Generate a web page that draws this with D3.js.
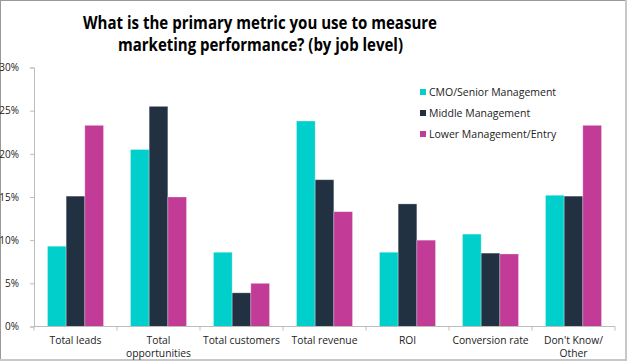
<!DOCTYPE html>
<html>
<head>
<meta charset="utf-8">
<script src="https://cdn.jsdelivr.net/npm/d3@7"></script>
<style>
  body { margin: 0; background: #fff; }
  svg { display: block; font-family: "Open Sans", sans-serif; }
</style>
</head>
<body>
<svg width="627" height="361"></svg>
<script>
// Data
var categories = ["Total leads", "Total opportunities", "Total customers", "Total revenue", "ROI", "Conversion rate", "Don't Know/ Other"];
var categoryLines = [["Total leads"], ["Total", "opportunities"], ["Total customers"], ["Total revenue"], ["ROI"], ["Conversion rate"], ["Don't Know/", "Other"]];
var seriesNames = ["CMO/Senior Management", "Middle Management", "Lower Management/Entry"];
var cmoValues = [9.3, 20.5, 8.6, 23.8, 8.6, 10.7, 15.2];
var middleValues = [15.1, 25.5, 3.9, 17.0, 14.2, 8.5, 15.1];
var lowerValues = [23.3, 15.0, 5.0, 13.3, 10.0, 8.4, 23.3];
var yTicks = [0, 5, 10, 15, 20, 25, 30];
var colors = ["#00CFCB", "#213142", "#C23B96"];

var svg = d3.select("svg"),
  width = +svg.attr("width"),
  height = +svg.attr("height");

// frame
svg.append("rect").attr("x", 0).attr("y", 0).attr("width", width).attr("height", height).attr("fill", "#c8c8c8");
svg.append("rect").attr("x", 0).attr("y", 0).attr("width", width - 2).attr("height", height - 2).attr("fill", "#999");
svg.append("rect").attr("x", 1).attr("y", 1).attr("width", width - 3).attr("height", height - 3).attr("fill", "#fff");

var x0 = d3.scaleBand().domain(categories).range([34, 615]).paddingInner(0.325).paddingOuter(0.1625);
var x1 = d3.scaleBand().domain(seriesNames).range([0, x0.bandwidth()]);
var y = d3.scaleLinear().domain([0, 30]).range([326.5, 67.5]);

var rows = categories.map(function(c, i) {
  return {cat: c, vals: [cmoValues[i], middleValues[i], lowerValues[i]]};
});

// title
var title = svg.append("g").attr("font-weight", "bold").attr("font-size", 18).attr("fill", "#000");
title.append("text").attr("x", 83).attr("y", 29).attr("textLength", 354).attr("lengthAdjust", "spacingAndGlyphs")
  .text("What is the primary metric you use to measure");
title.append("text").attr("x", 118).attr("y", 51).attr("textLength", 285).attr("lengthAdjust", "spacingAndGlyphs")
  .text("marketing performance? (by job level)");

// y axis
var yAxis = svg.append("g").attr("transform", "translate(34,0)")
  .call(d3.axisLeft(y).tickValues(yTicks).tickFormat(function(d) { return d + "%"; }).tickSize(4).tickPadding(11));
yAxis.select(".domain").attr("stroke", "#bdbdbd");
yAxis.selectAll(".tick line").attr("stroke", "#bdbdbd");
yAxis.selectAll("text").attr("font-size", 10).attr("fill", "#222").attr("font-family", "Open Sans, sans-serif");

// bars
svg.append("g")
  .selectAll("g")
  .data(rows)
  .enter()
  .append("g")
    .attr("transform", function(d) { return "translate(" + x0(d.cat) + ",0)"; })
  .selectAll("rect")
  .data(function(d) { return d.vals.map(function(v, i) { return {name: seriesNames[i], v: v, i: i}; }); })
  .enter()
  .append("rect")
    .attr("x", function(d) { return x1(d.name); })
    .attr("y", function(d) { return y(d.v); })
    .attr("width", x1.bandwidth())
    .attr("height", function(d) { return y(0) - y(d.v); })
    .attr("fill", function(d) { return colors[d.i]; })
    .attr("stroke", "rgba(255,255,255,0.35)")
    .attr("stroke-width", 0.8);

// x axis
var xAxis = svg.append("g").attr("transform", "translate(0,326.5)");
xAxis.append("line").attr("x1", 34).attr("x2", 615).attr("stroke", "#bdbdbd");
var bounds = categories.map(function(c) { return x0(c) - x0.step() * x0.paddingInner() / 2; });
bounds.push(615);
xAxis.selectAll(".ct").data(bounds).enter().append("line")
  .attr("x1", function(d) { return d; }).attr("x2", function(d) { return d; })
  .attr("y1", 0).attr("y2", 4).attr("stroke", "#bdbdbd");

// category labels, one text per line
categories.forEach(function(c, i) {
  categoryLines[i].forEach(function(line, j) {
    xAxis.append("text")
      .attr("text-anchor", "middle").attr("font-size", 10.3).attr("fill", "#222")
      .attr("x", x0(c) + x0.bandwidth() / 2)
      .attr("y", 17 + j * 13)
      .text(line);
  });
});

// legend
var legend = svg.append("g").attr("transform", "translate(420,87)");
seriesNames.forEach(function(name, i) {
  var g = legend.append("g").attr("transform", "translate(0," + (i * 21) + ")");
  g.append("rect").attr("width", 6).attr("height", 6).attr("y", 2).attr("fill", colors[i]);
  g.append("text").attr("x", 9).attr("y", 9).attr("font-size", 10.5).attr("fill", "#222").text(name);
});
</script>
</body>
</html>
